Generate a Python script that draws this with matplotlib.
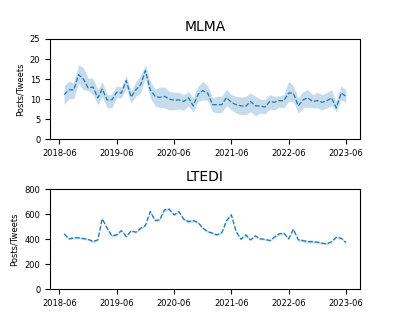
# Monthly posts/tweets for MLMA and LTEDI

import numpy as np
import matplotlib
matplotlib.use('Agg')
import matplotlib.pyplot as plt
import matplotlib.dates as mdates
import pandas as pd

# Data
months = pd.date_range('2018-07-01', '2023-06-01', freq='MS')

mlma_mean = [11.1, 12.3, 12.3, 16.1, 15.0, 12.8, 13.0, 10.3, 12.5, 9.8,
             9.8, 11.7, 11.5, 14.6, 10.5, 12.3, 13.6, 17.1, 12.3, 10.7,
             10.4, 10.7, 10.0, 9.7, 9.8, 9.4, 10.3, 8.3, 11.2, 12.1,
             11.5, 8.6, 8.6, 8.6, 10.4, 9.2, 8.6, 8.3, 8.2, 9.4,
             8.3, 8.3, 8.0, 9.4, 9.2, 9.6, 9.6, 11.5, 11.5, 8.3,
             9.8, 10.3, 9.4, 9.6, 9.2, 9.6, 10.3, 7.8, 11.5, 10.7]
mlma_low = [8.6, 10.1, 10.1, 14.0, 12.3, 12.1, 11.1, 8.6, 10.7, 7.8,
            7.8, 10.3, 10.3, 12.8, 9.0, 10.7, 11.5, 15.2, 10.3, 8.3,
            7.9, 7.8, 7.3, 7.3, 7.5, 7.2, 8.3, 6.7, 9.4, 9.8,
            9.7, 6.9, 6.5, 6.7, 8.3, 7.3, 6.5, 6.1, 6.1, 6.9,
            5.8, 6.5, 6.3, 7.5, 7.3, 8.0, 7.8, 9.4, 9.4, 6.5,
            7.8, 8.0, 7.8, 7.8, 7.3, 7.8, 8.3, 6.9, 9.8, 9.2]
mlma_high = [13.3, 14.4, 14.2, 18.6, 17.8, 15.2, 15.2, 12.3, 14.4, 11.1,
             11.1, 13.3, 13.0, 15.8, 11.9, 14.4, 15.8, 18.6, 14.4, 12.5,
             13.0, 13.0, 11.9, 11.7, 11.7, 11.1, 11.9, 10.3, 13.2, 14.4,
             13.3, 10.3, 10.7, 10.7, 12.5, 11.1, 10.7, 10.5, 10.7, 11.5,
             10.7, 10.0, 9.8, 11.1, 10.7, 10.8, 11.1, 14.4, 13.3, 10.3,
             11.9, 12.3, 11.1, 11.7, 11.1, 11.7, 12.3, 9.4, 13.3, 12.3]

ltedi_mean = [443, 403, 411, 411, 405, 400, 381, 395, 563, 488,
              427, 435, 469, 421, 467, 456, 488, 509, 621, 549,
              555, 635, 640, 595, 621, 560, 541, 549, 533, 488,
              461, 448, 435, 453, 547, 595, 461, 400, 435, 395,
              427, 403, 400, 389, 416, 443, 448, 403, 480, 395,
              389, 381, 381, 376, 368, 363, 381, 416, 408, 373]
ltedi_err = [8, 8, 9, 8, 8, 8, 9, 8, 10, 9,
             10, 9, 8, 8, 9, 8, 9, 8, 10, 10,
             9, 12, 12, 10, 10, 10, 12, 10, 10, 9,
             9, 10, 9, 9, 10, 10, 9, 8, 9, 8,
             8, 8, 8, 8, 10, 12, 9, 8, 9, 9,
             12, 12, 12, 9, 8, 8, 8, 8, 8, 8]

ltedi_low = np.array(ltedi_mean) - np.array(ltedi_err)
ltedi_high = np.array(ltedi_mean) + np.array(ltedi_err)

# Plotting
fig, axes = plt.subplots(2, 1, figsize=(4, 3.25), dpi=100)
fig.subplots_adjust(left=0.125, right=0.9, top=0.88, bottom=0.11, hspace=0.5)

panels = [
    (axes[0], 'MLMA', mlma_mean, mlma_low, mlma_high, (0, 25), [0, 5, 10, 15, 20, 25]),
    (axes[1], 'LTEDI', ltedi_mean, ltedi_low, ltedi_high, (0, 800), [0, 200, 400, 600, 800]),
]

for ax, name, mean, low, high, ylim, yticks in panels:
    ax.fill_between(months, low, high, color='#1f77b4', alpha=0.25, linewidth=0)
    ax.plot(months, mean, color='#1f77b4', linestyle='--', linewidth=0.9)
    ax.set_title(name, fontsize=10)
    ax.set_ylabel('Posts/Tweets', fontsize=6)
    ax.set_ylim(ylim)
    ax.set_yticks(yticks)
    ax.xaxis.set_major_locator(mdates.MonthLocator(bymonth=6))
    ax.xaxis.set_major_formatter(mdates.DateFormatter('%Y-%m'))
    ax.tick_params(labelsize=6)

plt.savefig('out.png', dpi=100)
